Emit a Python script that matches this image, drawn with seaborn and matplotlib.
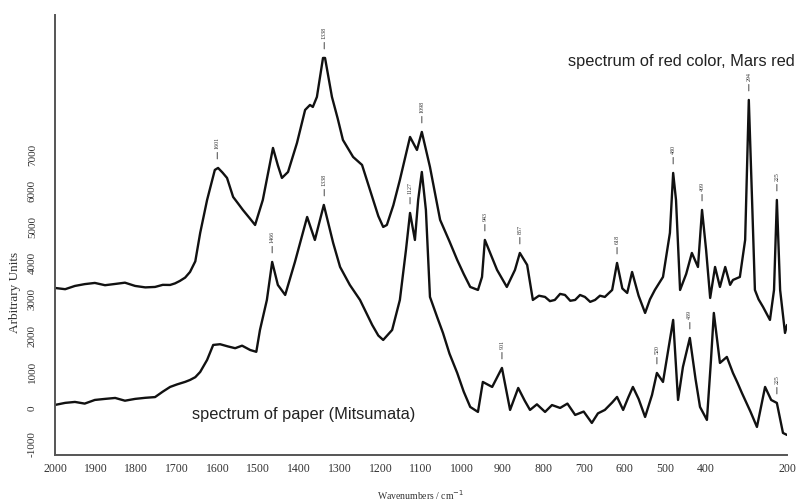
import matplotlib
matplotlib.use("Agg")
import matplotlib.pyplot as plt
import seaborn as sns
import numpy as np
import pandas as pd

# ---------------- data ----------------
red_wn = [2000, 1975, 1951, 1927, 1902, 1877, 1852, 1828, 1803, 1778, 1754, 1735, 1717, 1705,
          1693, 1680, 1668, 1655, 1643, 1626, 1607, 1599, 1588, 1577, 1562, 1550, 1538, 1522,
          1508, 1489, 1464, 1452, 1442, 1427, 1405, 1385, 1373, 1366, 1356, 1341, 1336, 1319,
          1305, 1292, 1267, 1245, 1220, 1205, 1193, 1184, 1168, 1152, 1127, 1110, 1098, 1078,
          1053, 1030, 1011, 995, 979, 960, 950, 943, 930, 913, 889, 869, 857, 839, 825, 810,
          795, 783, 771, 758, 746, 733, 721, 709, 697, 684, 672, 660, 648, 630, 618, 605, 593,
          581, 565, 549, 537, 525, 505, 488, 480, 473, 463, 448, 434, 419, 409, 399, 389, 377,
          365, 352, 340, 333, 316, 303, 294, 286, 279, 270, 259, 242, 232, 225, 217, 205, 200]
red_val = [3314, 3280, 3370, 3420, 3453, 3390, 3425, 3460, 3370, 3330, 3342, 3400, 3397, 3440,
           3508, 3600, 3756, 4050, 4834, 5745, 6574, 6629, 6500, 6353, 5828, 5650, 5469, 5250,
           5054, 5745, 7181, 6700, 6353, 6518, 7319, 8231, 8369, 8314, 8590, 9667, 9667, 8590,
           8000, 7402, 6933, 6712, 5828, 5300, 4999, 5054, 5600, 6297, 7485, 7126, 7623, 6656,
           5193, 4600, 4088, 3700, 3342, 3259, 3618, 4640, 4281, 3812, 3342, 3812, 4281, 3950,
           2983, 3100, 3066, 2950, 2983, 3150, 3121, 2960, 2983, 3120, 3066, 2930, 2983, 3100,
           3066, 3259, 4005, 3300, 3176, 3756, 3100, 2624, 3000, 3259, 3618, 4834, 6491, 5745,
           3259, 3700, 4281, 3894, 5469, 4364, 3038, 3894, 3342, 3894, 3400, 3535, 3618, 4640,
           8507, 5745, 3259, 3000, 2790, 2431, 3259, 5745, 3259, 2072, 2292]

paper_wn = [2000, 1975, 1951, 1927, 1902, 1877, 1852, 1828, 1803, 1778, 1754, 1735, 1717, 1700,
            1680, 1668, 1655, 1643, 1626, 1611, 1594, 1575, 1557, 1540, 1520, 1505, 1496, 1479,
            1466, 1452, 1434,
            1410, 1380, 1361, 1339, 1316, 1299, 1275, 1250, 1220, 1205, 1193, 1171, 1152, 1137,
            1127, 1115, 1107, 1098, 1088, 1078, 1060, 1046, 1030, 1011, 995, 979, 960, 948, 925,
            901, 881, 861, 845, 832, 815, 795, 778, 758, 740, 721, 700, 680, 665, 648, 630, 618,
            603, 590, 579, 565, 549, 532, 520, 505, 480, 468, 456, 439, 425, 414, 397, 387, 380,
            365, 348, 333, 322, 311, 290, 274, 254, 239, 225, 210, 200]
paper_val = [83, 140, 166, 120, 221, 250, 276, 200, 250, 280, 300, 450, 580, 650, 720, 773, 850,
             994, 1326, 1740, 1760, 1700, 1650, 1720, 1600, 1550, 2154, 2983,
             4033, 3397, 3121, 4033, 5275, 4640,
             5607, 4557, 3894, 3397, 2983, 2292, 2000, 1878, 2154, 2983, 4364, 5386, 4640, 5745,
             6518, 5469, 3066, 2500, 2072, 1500, 967, 450, 28, -110, 718, 580, 1105, -55, 552,
             200, -55, 100, -110, 80, 0, 120, -193, -100, -414, -150, -55, 150, 304, -55, 300,
             580, 250, -249, 359, 967, 718, 2431, 221, 1132, 1933, 800, 28, -331, 1326, 2624,
             1243, 1409, 967, 700, 414, -100, -525, 580, 221, 138, -690, -746]

red_peaks = [1601, 1338, 1098, 943, 857, 618, 480, 409, 294, 225]
paper_peaks = [1466, 1338, 1127, 901, 520, 439, 225]

x_ticks = [2000, 1900, 1800, 1700, 1600, 1500, 1400, 1300, 1200, 1100, 1000, 900, 800, 700,
           600, 500, 400, 300, 200]
x_tick_labels = ["2000", "1900", "1800", "1700", "1600", "1500", "1400", "1300", "1200", "1100",
                 "1000", "900", "800", "700", "600", "500", "400", "", "200"]
y_ticks = [-1000, 0, 1000, 2000, 3000, 4000, 5000, 6000, 7000]

# ---------------- plotting ----------------
sns.set_style("white")
plt.rcParams["font.family"] = ["Liberation Serif", "DejaVu Serif"]

df_red = pd.DataFrame({"wn": red_wn, "val": red_val})
df_paper = pd.DataFrame({"wn": paper_wn, "val": paper_val})

fig = plt.figure(figsize=(8.04, 5.04), dpi=100)
ax = fig.add_axes([0.0684, 0.0972, 0.9105, 0.8728])

sns.lineplot(data=df_red, x="wn", y="val", ax=ax, color="#111111", lw=1.7, sort=False)
sns.lineplot(data=df_paper, x="wn", y="val", ax=ax, color="#111111", lw=1.7, sort=False)

ax.set_xlim(2000, 200)
ax.set_ylim(-1300, 10850)

ax.set_xticks(x_ticks)
ax.set_xticklabels(x_tick_labels, fontsize=8.5, color="#333333")
ax.set_yticks(y_ticks)
ax.set_yticklabels([str(v) for v in y_ticks], fontsize=8, color="#333333",
                   rotation=90, va="center")
ax.tick_params(axis="x", direction="in", length=3, width=0.8, colors="#555555",
               labelcolor="#333333", pad=6)
ax.tick_params(axis="y", direction="out", length=3, width=0.8, colors="#555555",
               labelcolor="#333333", pad=10)

for s in ["top", "right"]:
    ax.spines[s].set_visible(False)
for s in ["left", "bottom"]:
    ax.spines[s].set_color("#555555")
    ax.spines[s].set_linewidth(1.4)

ax.set_xlabel("Wavenumbers / cm$^{-1}$", fontsize=7, color="#333333")
ax.xaxis.set_label_coords(0.5, -0.075)
ax.set_ylabel("Arbitrary Units", fontsize=9.5, color="#333333")
ax.yaxis.set_label_coords(-0.047, 0.37)


def label_peaks(peaks, wn, val):
    order = np.argsort(wn)
    xs = np.array(wn)[order]
    ys = np.array(val)[order]
    for p in peaks:
        m = (xs >= p - 8) & (xs <= p + 8)
        top = ys[m].max() if m.any() else np.interp(p, xs, ys)
        ax.annotate(str(p), xy=(p, top + 250), xytext=(0, 7), textcoords="offset points",
                    fontsize=4.3, rotation=90, ha="center", va="bottom", color="#333333",
                    arrowprops=dict(arrowstyle="-", lw=0.7, color="#444444",
                                    shrinkA=0, shrinkB=0))


label_peaks(red_peaks, red_wn, red_val)
label_peaks(paper_peaks, paper_wn, paper_val)

ax.text(1.01, 0.894, "spectrum of red color, Mars red", transform=ax.transAxes,
        fontsize=11.8, ha="right", va="center", color="#222222",
        family=["Liberation Sans", "DejaVu Sans"])
ax.text(0.339, 0.091, "spectrum of paper (Mitsumata)", transform=ax.transAxes,
        fontsize=11.8, ha="center", va="center", color="#222222",
        family=["Liberation Sans", "DejaVu Sans"])

fig.savefig("out.png", dpi=100)
